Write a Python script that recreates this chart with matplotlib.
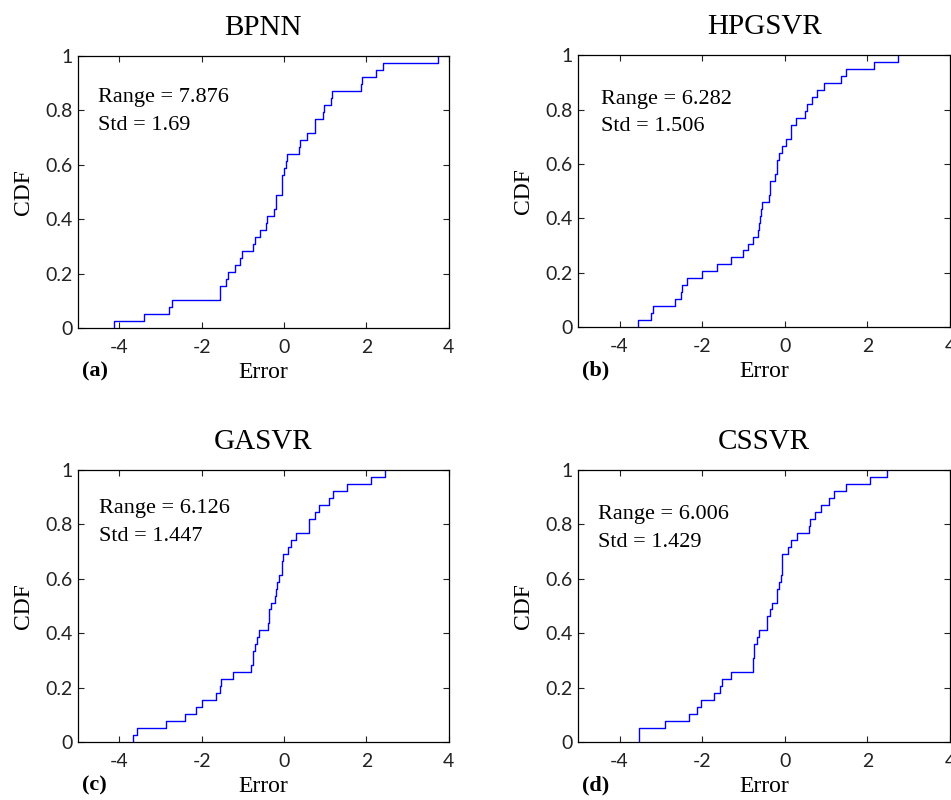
import numpy as np
import matplotlib
matplotlib.use('Agg')
import matplotlib.pyplot as plt

plt.rcParams['axes.unicode_minus'] = False

# Prediction errors read from each empirical CDF (sorted, 39 samples each)
bpnn_err = [-4.13, -3.40, -2.79, -2.73, -1.55, -1.55, -1.41, -1.37, -1.18, -1.07,
            -1.01, -0.75, -0.71, -0.59, -0.44, -0.42, -0.24, -0.20, -0.20, -0.04,
            -0.04, -0.04, 0.00, 0.04, 0.06, 0.36, 0.39, 0.55, 0.75, 0.75,
            0.95, 0.97, 1.13, 1.16, 1.87, 1.90, 2.23, 2.41, 3.746]
hpgsvr_err = [-3.55, -3.25, -3.20, -2.65, -2.52, -2.48, -2.36, -2.00, -1.65, -1.31,
              -1.02, -0.89, -0.78, -0.66, -0.63, -0.60, -0.58, -0.55, -0.38, -0.35,
              -0.35, -0.23, -0.19, -0.19, -0.14, -0.06, 0.02, 0.15, 0.15, 0.27,
              0.50, 0.54, 0.66, 0.77, 0.95, 1.35, 1.47, 2.15, 2.732]
gasvr_err = [-3.67, -3.56, -2.86, -2.40, -2.14, -1.99, -1.65, -1.56, -1.52, -1.23,
             -0.79, -0.75, -0.75, -0.71, -0.65, -0.60, -0.39, -0.36, -0.36, -0.31,
             -0.23, -0.20, -0.16, -0.12, -0.06, -0.06, -0.02, 0.10, 0.18, 0.30,
             0.60, 0.60, 0.75, 0.85, 1.08, 1.18, 1.54, 2.10, 2.456]
cssvr_err = [-3.54, -3.54, -2.89, -2.33, -2.13, -2.02, -1.71, -1.57, -1.51, -1.29,
             -0.76, -0.76, -0.74, -0.74, -0.67, -0.62, -0.42, -0.42, -0.36, -0.32,
             -0.20, -0.18, -0.14, -0.10, -0.06, -0.06, -0.06, 0.08, 0.14, 0.30,
             0.58, 0.60, 0.74, 0.88, 1.08, 1.20, 1.47, 2.06, 2.466]

titles = ['BPNN', 'HPGSVR', 'GASVR', 'CSSVR']
ranges = ['7.876', '6.282', '6.126', '6.006']
stds = ['1.69', '1.506', '1.447', '1.429']
letters = ['(a)', '(b)', '(c)', '(d)']
x_ticks = [-4, -2, 0, 2, 4]
y_ticks = [0, 0.2, 0.4, 0.6, 0.8, 1]
y_tick_labels = ['0', '0.2', '0.4', '0.6', '0.8', '1']

serif = 'Liberation Serif'
tick_font = 'Lato'

fig = plt.figure(figsize=(9.51, 8.0), dpi=100)

# axes boxes in figure fractions: left, bottom, width, height
boxes = [[0.082, 0.590, 0.390, 0.340],
         [0.608, 0.591, 0.391, 0.340],
         [0.082, 0.0725, 0.390, 0.340],
         [0.608, 0.0725, 0.391, 0.340]]
text_pos = [(0.054, 0.846, 0.743),
            (0.061, 0.838, 0.739),
            (0.057, 0.857, 0.755),
            (0.054, 0.835, 0.735)]

all_err = [bpnn_err, hpgsvr_err, gasvr_err, cssvr_err]

for i in range(4):
    ax = fig.add_axes(boxes[i])
    x = np.sort(np.array(all_err[i]))
    n = len(x)
    y = np.arange(1, n + 1) / n
    ax.step(np.r_[x[0], x], np.r_[0, y], where='post', color='#0000ff', lw=1.0)

    ax.set_xlim(-5, 4)
    ax.set_ylim(0, 1)
    ax.set_xticks(x_ticks)
    ax.set_yticks(y_ticks)
    ax.set_yticklabels(y_tick_labels)
    ax.tick_params(direction='in', top=True, right=True, length=4, width=0.8,
                   labelsize=14, colors='#222222')
    ax.tick_params(axis='x', pad=8)
    ax.tick_params(axis='y', pad=4)
    for lab in ax.get_xticklabels() + ax.get_yticklabels():
        lab.set_fontfamily(tick_font)
        lab.set_color('#222222')
    for sp in ax.spines.values():
        sp.set_linewidth(0.9)

    ax.set_title(titles[i], fontsize=21, family=serif, pad=15)
    ax.set_xlabel('Error', fontsize=17, family=serif, labelpad=4)
    ax.set_ylabel('CDF', fontsize=17, family=serif, labelpad=8)

    tx, ty1, ty2 = text_pos[i]
    ax.text(tx, ty1, 'Range = ' + ranges[i], transform=ax.transAxes,
            fontsize=16, family=serif, ha='left', va='center')
    ax.text(tx, ty2, 'Std = ' + stds[i], transform=ax.transAxes,
            fontsize=16, family=serif, ha='left', va='center')
    ax.text(0.011, -0.16, letters[i], transform=ax.transAxes,
            fontsize=16, family=serif, fontweight='bold', ha='left', va='center')

fig.savefig('out.png', dpi=100)
